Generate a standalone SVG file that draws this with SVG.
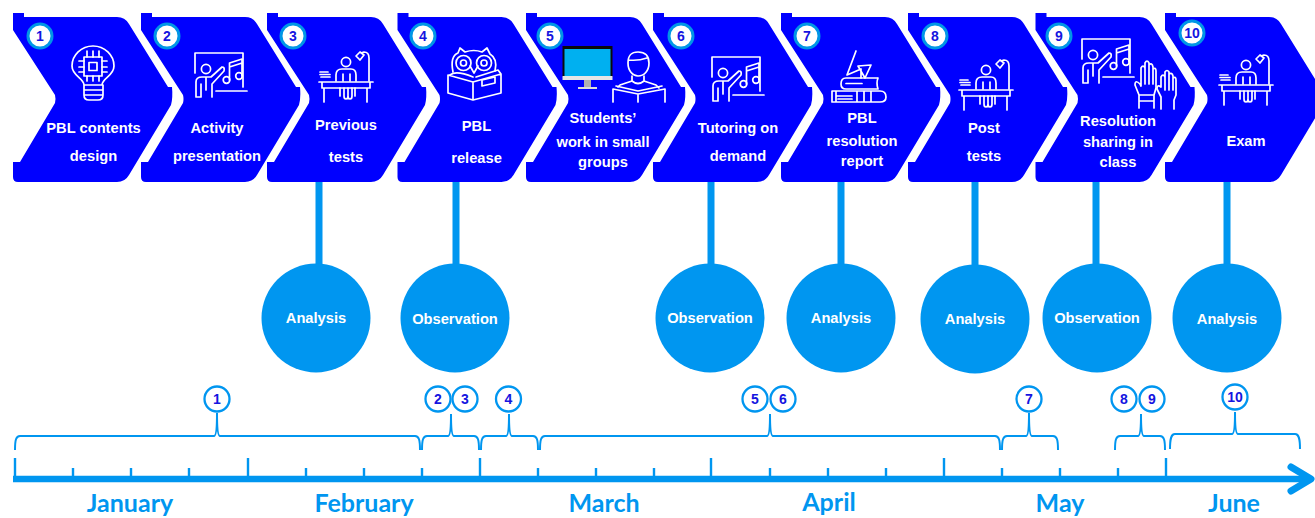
<svg xmlns="http://www.w3.org/2000/svg" width="1315" height="518" viewBox="0 0 1315 518">
<style>
.chev{fill:#0000ff}
.ic{fill:none;stroke:#fff;stroke-width:1.7;stroke-linecap:round;stroke-linejoin:round}
.t{font-family:"Liberation Sans",Arial,sans-serif;font-weight:700;font-size:14.7px;fill:#fff;text-anchor:middle}
.b{fill:#fff;stroke:#0096e6;stroke-width:3}
.n{font-family:"Liberation Sans",Arial,sans-serif;font-weight:700;font-size:14px;fill:#1414e0;text-anchor:middle}
.c{fill:#0096f0}
.s{stroke:#0096f0;fill:none;stroke-width:7}
.br{stroke:#0096f0;fill:none;stroke-width:2}
.tk{stroke:#0096f0;stroke-width:2.4;fill:none}
.tc{fill:#fff;stroke:#0096f0;stroke-width:2.3}
.m{font-family:Lato,"Liberation Sans",sans-serif;font-weight:700;font-size:25px;fill:#0096f0;text-anchor:middle}
</style>
<defs>
<path id="chevron" class="chev" d="M0 13H11V17H104Q112 17 116 24L155 87H159Q160 98 158 105L116 175Q112 182 104 182H5Q0 182 0 177V162H7L42 103Q43 99 42 95L0 30Z"/>
<g id="teacher" class="ic">
<path d="M195 73V53H243V87M216 91H247"/>
<circle cx="206" cy="69" r="4.6"/>
<path d="M196 97V82Q196 77 202 77H211L222 67Q225 67 224 71L212 84V97M196 97H201V84M206 78V90"/>
<circle cx="226.500" cy="80" r="3.300"/><circle cx="239" cy="76" r="3.300"/>
<path d="M229.500 80V63L242 59V76M229.500 67L242 63"/>
</g>
<g id="desk" class="ic">
<circle cx="346" cy="62" r="4.600"/>
<path d="M336 81V75Q336 69 342 69H351Q356 69 356 75V81M343 74V81M350 74V81"/>
<path d="M369 81V58Q369 52 364 52L361 53M356 56L360 52L364 55L360 60Z"/>
<path d="M319 82H373M322 82V88H370V82M324 88V102M367 88V102"/>
<path d="M320 72H328M320 74.500H330M321 77H330"/>
<path d="M340 88V96M344 88V96Q344 99 346 99Q348 99 348 96V88M348 96Q348 99 350 99Q352 99 352 96V88M355 88V96"/>
</g>
</defs>
<rect width="1315" height="518" fill="#fff"/>

<g id="connectors">
<path class="s" d="M319 182V266M456 182V266M711 182V266M841 182V266M975 182V266M1096 182V266M1227 182V266"/>
<g id="braces" class="br">
<path d="M15 450C15 440 16 436 20 436H214Q217 436 217 413Q217 436 220 436H415C419 436 420 440 420 450"/>
<path d="M422 450C422 440 423 436 427 436H448Q451 436 451 414Q451 436 454 436H474C478 436 479 440 479 450"/>
<path d="M481 450C481 440 482 436 486 436H506Q509 436 509 414Q509 436 512 436H533C537 436 538 440 538 450"/>
<path d="M540 450C540 440 541 436 545 436H767Q770 436 770 414Q770 436 773 436H995C999 436 1000 440 1000 450"/>
<path d="M1002 450C1002 440 1003 436 1007 436H1026Q1029 436 1029 413Q1029 436 1032 436H1053C1057 436 1058 440 1058 450"/>
<path d="M1115 450C1115 440 1116 436 1120 436H1138Q1141 436 1141 414Q1141 436 1144 436H1160C1164 436 1165 440 1165 450"/>
<path d="M1170 449C1170 439 1171 434 1175 434H1232Q1235 434 1235 412Q1235 434 1238 434H1295C1299 434 1300 439 1300 449"/>
</g>
<g id="axis">
<path class="tk" d="M73 479V468M131 479V468M189 479V468M306 479V468M364 479V468M422 479V468M538 479V468M596 479V468M654 479V468M770 479V468M828 479V468M886 479V468M1002 479V468M1060 479V468M1118 479V468"/>
<path class="tk" d="M15 479V458M248 479V458M480 479V458M711 479V458M944 479V458M1166 479V458" stroke-width="2.800"/>
<path d="M13 479H1311" stroke="#0096f0" stroke-width="6.500" fill="none"/>
<path d="M1291 467L1311 479L1291 491" stroke="#0096f0" stroke-width="7" fill="none" stroke-linecap="round" stroke-linejoin="round"/>
</g>
</g>

<g id="node1"><use href="#chevron" x="13"/>
<circle class="b" cx="40" cy="36" r="12"/><text class="n" x="40" y="41">1</text>
<g class="ic"><path d="M84 85C84 78 72 76 72 66A21 20 0 1 1 114 66C114 76 102 78 102 85ZM84 85V95Q84 100 89 100H98Q103 100 103 95V85M84 90H103M84 95H103"/>
<rect x="84" y="57" width="18" height="19"/><rect x="89" y="62.500" width="8" height="8"/>
<path d="M87 57V51M93 57V51M99 57V51M87 76V81M93 76V81M99 76V81M84 61H79M84 67H79M84 72H79M102 61H107M102 67H107M102 72H107"/></g>
<text class="t" x="93.500" y="133">PBL contents</text><text class="t" x="93.500" y="161">design</text></g>

<g id="node2"><use href="#chevron" x="141"/>
<circle class="b" cx="167" cy="36" r="12"/><text class="n" x="167" y="41">2</text>
<use href="#teacher"/>
<text class="t" x="217" y="133">Activity</text><text class="t" x="217" y="161">presentation</text></g>

<g id="node3"><use href="#chevron" x="267"/>
<circle class="b" cx="293" cy="36" r="12"/><text class="n" x="293" y="41">3</text>
<use href="#desk"/>
<text class="t" x="346" y="130">Previous</text><text class="t" x="346" y="162">tests</text></g>

<g id="node4"><use href="#chevron" x="397.500"/>
<circle class="b" cx="423" cy="36" r="12"/><text class="n" x="423" y="41">4</text>
<g class="ic"><circle cx="463.500" cy="63" r="7.500"/><circle cx="463.500" cy="63" r="3"/><circle cx="484" cy="63" r="7.500"/><circle cx="484" cy="63" r="3"/>
<path d="M453 72C451 62 453 55 458 53L460 48L465 52Q474 49 482 52L487 48L490 54C495 57 497 63 495 71M470 66L474 73L478 66"/>
<path d="M448 75L473 82V100L448 93ZM473 82L501 74V93L473 100M450 75Q456 70 473 77M501 74L498 70L476 77"/>
<path d="M482 80L495 77V83L482 86Z"/></g>
<text class="t" x="476.500" y="131">PBL</text><text class="t" x="476.500" y="163">release</text></g>

<g id="node5"><use href="#chevron" x="526"/>
<circle class="b" cx="550" cy="36" r="12"/><text class="n" x="550" y="41">5</text>
<rect x="562.500" y="46" width="50" height="31" fill="#0a0a0a"/><rect x="564.500" y="49" width="46" height="27" fill="#00b0f0"/>
<rect x="562.500" y="76" width="50" height="4" fill="#e6e6e6"/><rect x="584" y="80" width="7" height="7" fill="#b0b0b0"/><rect x="578" y="87" width="19" height="2" fill="#dcdcdc"/>
<g class="ic"><path d="M628 63C628 54 632 52 638 52C644 52 649 55 649 63C649 71 644 76 638 76C633 76 628 71 628 63ZM629 60Q638 61 647 58"/>
<path d="M632 76V81L620 85L618 87M644 76V81L656 85L659 88M632 81Q638 86 644 81"/>
<path d="M613 102V89L638 94L665 89V102M638 94V102M616 86L638 91L662 86"/></g>
<text class="t" x="603" y="123">Students’</text><text class="t" x="603" y="147">work in small</text><text class="t" x="603" y="167">groups</text></g>

<g id="node6"><use href="#chevron" x="653"/>
<circle class="b" cx="681" cy="36" r="12"/><text class="n" x="681" y="41">6</text>
<use href="#teacher" x="517" y="4"/>
<text class="t" x="738" y="133">Tutoring on</text><text class="t" x="738" y="161">demand</text></g>

<g id="node7"><use href="#chevron" x="781"/>
<circle class="b" cx="807" cy="36" r="12"/><text class="n" x="807" y="41">7</text>
<g class="ic"><path d="M856 51L847 75L861 69V78M865 78L871 65L858 66Z"/>
<path d="M878 78H846Q841 78 841 84Q841 89 846 89H878M846 83.500H862M878 78Q876 83 878 89"/>
<path d="M832 91H880Q886 91 886 97Q886 102 880 102H832M832 91V102M836 91V102M857 91V102M864 91V102M871 91V102M836 96H852M838 99H852"/></g>
<text class="t" x="862" y="123">PBL</text><text class="t" x="862" y="146">resolution</text><text class="t" x="862" y="166">report</text></g>

<g id="node8"><use href="#chevron" x="908"/>
<circle class="b" cx="935" cy="36" r="12"/><text class="n" x="935" y="41">8</text>
<use href="#desk" x="640" y="8"/>
<text class="t" x="984" y="133">Post</text><text class="t" x="984" y="161">tests</text></g>

<g id="node9"><use href="#chevron" x="1035.500"/>
<circle class="b" cx="1059" cy="36" r="12"/><text class="n" x="1059" y="41">9</text>
<use href="#teacher" x="887" y="-14"/>
<g class="ic"><path d="M1139 108V95L1135 85Q1135 79 1140 84L1141 86V68Q1143 64 1145 68V63Q1147 59 1149 63V65Q1152 62 1153 67V69Q1156 67 1156 71V88L1154 95V108M1139 95H1154M1139 101H1154M1145 68V84M1149 65V84M1153 68V84"/>
<path d="M1161 109V97L1157 89Q1157 84 1161 87V77Q1163 73 1165 77V72Q1167 69 1169 72V74Q1172 72 1173 76V78Q1176 76 1176 80V95L1174 100V109M1165 77V90M1169 73V90M1173 77V90"/></g>
<text class="t" x="1118" y="126">Resolution</text><text class="t" x="1118" y="147">sharing in</text><text class="t" x="1118" y="167">class</text></g>

<g id="node10"><use href="#chevron" x="1165"/>
<circle class="b" cx="1192" cy="33" r="12"/><text class="n" x="1192" y="38">10</text>
<use href="#desk" x="900" y="3"/>
<text class="t" x="1246" y="146">Exam</text></g>

<g id="analysis1"><circle class="c" cx="316" cy="318" r="54.500"/><text class="t" x="316" y="323">Analysis</text></g>
<g id="observation1"><circle class="c" cx="455" cy="318" r="54.500"/><text class="t" x="455" y="324">Observation</text></g>
<g id="observation2"><circle class="c" cx="710" cy="318" r="54.500"/><text class="t" x="710" y="323">Observation</text></g>
<g id="analysis2"><circle class="c" cx="841" cy="318" r="54.500"/><text class="t" x="841" y="323">Analysis</text></g>
<g id="analysis3"><circle class="c" cx="975" cy="319" r="54.500"/><text class="t" x="975" y="324">Analysis</text></g>
<g id="observation3"><circle class="c" cx="1097" cy="318" r="54.500"/><text class="t" x="1097" y="323">Observation</text></g>
<g id="analysis4"><circle class="c" cx="1227" cy="318" r="54.500"/><text class="t" x="1227" y="324">Analysis</text></g>

<g id="t1"><circle class="tc" cx="217" cy="399" r="12.500"/><text class="n" x="217" y="404">1</text></g>
<g id="t2"><circle class="tc" cx="438" cy="399" r="12.500"/><text class="n" x="438" y="404">2</text></g>
<g id="t3"><circle class="tc" cx="465" cy="399" r="12.500"/><text class="n" x="465" y="404">3</text></g>
<g id="t4"><circle class="tc" cx="508.500" cy="399" r="12.500"/><text class="n" x="508.500" y="404">4</text></g>
<g id="t5"><circle class="tc" cx="755" cy="399" r="12.500"/><text class="n" x="755" y="404">5</text></g>
<g id="t6"><circle class="tc" cx="783" cy="399" r="12.500"/><text class="n" x="783" y="404">6</text></g>
<g id="t7"><circle class="tc" cx="1029" cy="399" r="12.500"/><text class="n" x="1029" y="404">7</text></g>
<g id="t8"><circle class="tc" cx="1124" cy="399" r="12.500"/><text class="n" x="1124" y="404">8</text></g>
<g id="t9"><circle class="tc" cx="1152" cy="399" r="12.500"/><text class="n" x="1152" y="404">9</text></g>
<g id="t10"><circle class="tc" cx="1235" cy="397" r="12.500"/><text class="n" x="1235" y="402">10</text></g>

<g id="months">
<text class="m" x="130" y="512">January</text>
<text class="m" x="364" y="512">February</text>
<text class="m" x="604" y="512">March</text>
<text class="m" x="829" y="511">April</text>
<text class="m" x="1060" y="512">May</text>
<text class="m" x="1234" y="512">June</text>
</g>
</svg>
